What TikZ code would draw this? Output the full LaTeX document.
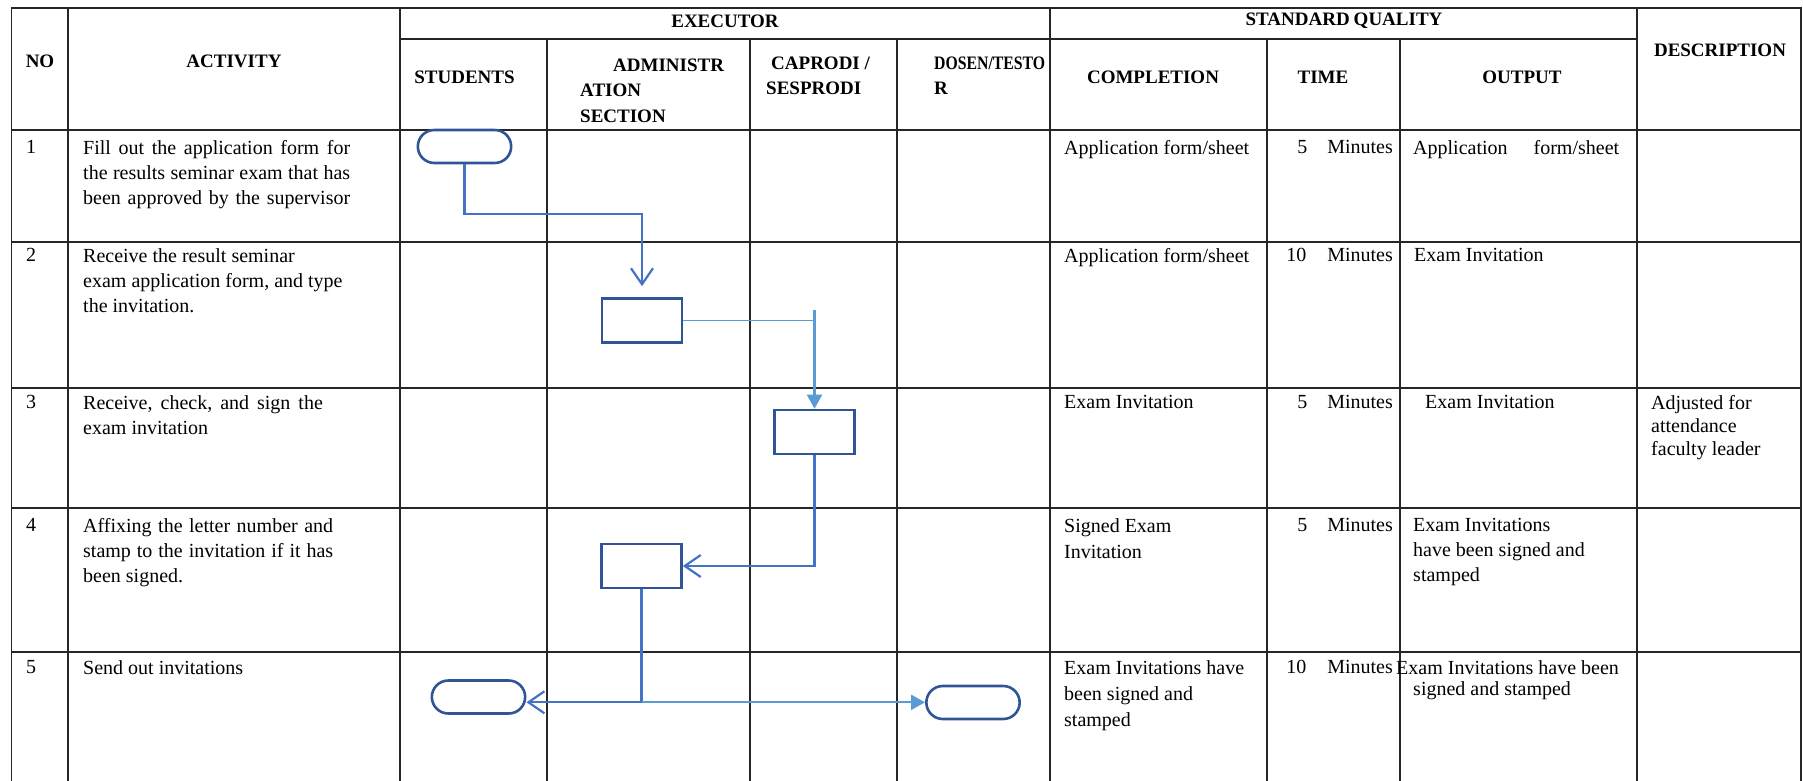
\documentclass[tikz,border=0pt]{standalone}
\usepackage{fontspec}
\setmainfont{Liberation Serif}
\usepackage{graphicx}
\usetikzlibrary{shapes.misc,arrows.meta,calc}

\definecolor{shapeblue}{RGB}{47,85,151}
\definecolor{linkblue}{RGB}{68,114,196}
\definecolor{lightblue}{RGB}{91,155,213}

\begin{document}
\begin{tikzpicture}[
    x=1pt, y=-1pt,
    grid/.style={line width=1.6pt, black!85, line cap=rect},
    head/.style={font=\bfseries\fontsize{19}{25.5}\selectfont, inner sep=0pt},
    cell/.style={font=\fontsize{20}{25}\selectfont, inner sep=0pt, anchor=north west, align=left},
    num/.style={font=\fontsize{20}{25}\selectfont, inner sep=0pt, anchor=north},
    mins/.style={font=\fontsize{20}{25}\selectfont, inner sep=0pt, anchor=north east},
    terminal/.style={rounded rectangle, draw=shapeblue, line width=2.6pt, minimum width=100pt, minimum height=33pt},
    process/.style={rectangle, draw=shapeblue, line width=2.6pt, minimum width=80pt, minimum height=44pt},
    link/.style={-{Straight Barb[length=16pt,width=22pt]}, linkblue, line width=2.2pt},
    filllink/.style={-{Triangle[length=14pt,width=15pt]}, lightblue, line width=2.2pt},
    thinlink/.style={lightblue, line width=1.2pt}
]
\useasboundingbox (0,0) rectangle (1803,781);

% Table lines
\draw[grid] (11.5,8) -- (1801,8);
\draw[grid] (400,39) -- (1637,39);
\draw[grid] (11.5,130) -- (1801,130) (11.5,242) -- (1801,242) (11.5,388) -- (1801,388)
            (11.5,508) -- (1801,508) (11.5,652) -- (1801,652);
\draw[grid] (11.5,8) -- (11.5,781) (68,8) -- (68,781) (400,8) -- (400,781)
            (1050,8) -- (1050,781) (1637,8) -- (1637,781) (1801,8) -- (1801,781);
\draw[grid] (547,39) -- (547,781) (750,39) -- (750,781) (897,39) -- (897,781)
            (1267,39) -- (1267,781) (1400,39) -- (1400,781);

% Header
\node[head] (no-head) at (40,61) {NO};
\node[head] (activity-head) at (234,61) {ACTIVITY};
\node[head] (executor-head) at (725,21) {EXECUTOR};
\node[head] (quality-head) at (1344,21) {STANDARD\hspace{4pt}QUALITY};
\node[head] (description-head) at (1720,50) {DESCRIPTION};
\node[head] (students-head) at (464.5,77) {STUDENTS};
\node[head, anchor=north west, align=left] (admin-head) at (580,58.5) {\hspace*{33pt}ADMINISTR\\ATION\\SECTION};
\node[head, anchor=north west, align=left] (caprodi-head) at (766,56.5) {\hspace*{5pt}CAPRODI /\\SESPRODI};
\node[head, anchor=north west, align=left] (dosen-head) at (934,56.5) {\scalebox{0.83}[1]{DOSEN/TESTO}\\R};
\node[head] (completion-head) at (1153,77) {COMPLETION};
\node[head] (time-head) at (1323,77) {TIME};
\node[head] (output-head) at (1522,77) {OUTPUT};

% Row 1
\node[num] (no-1) at (31,140) {1};
\node[cell] (act-1) at (83,140) {\makebox[267pt][s]{Fill out the application form for}\\
  \makebox[267pt][s]{the results seminar exam that has}\\
  \makebox[267pt][s]{been approved by the supervisor}};
\node[cell] (comp-1) at (1064,140) {Application form/sheet};
\node[mins] (time-1) at (1393,140) {5\hspace{20pt}Minutes};
\node[cell] (out-1) at (1413,140) {Application\hspace{26pt}form/sheet};

% Row 2
\node[num] (no-2) at (31,248) {2};
\node[cell] (act-2) at (83,248) {Receive the result seminar\\exam application form, and type\\the invitation.};
\node[cell] (comp-2) at (1064,248) {Application form/sheet};
\node[mins] (time-2) at (1393,248) {10\hspace{21pt}Minutes};
\node[cell] (out-2) at (1414,248) {Exam Invitation};

% Row 3
\node[num] (no-3) at (31,395) {3};
\node[cell] (act-3) at (83,395) {Receive,\hspace{8pt}check,\hspace{8pt}and\hspace{8pt}sign\hspace{8pt}the\\exam invitation};
\node[cell] (comp-3) at (1064,395) {Exam Invitation};
\node[mins] (time-3) at (1393,395) {5\hspace{20pt}Minutes};
\node[cell] (out-3) at (1425,395) {Exam Invitation};
\node[cell, font=\fontsize{20}{23}\selectfont] (desc-3) at (1651,395) {Adjusted for\\attendance\\faculty leader};

% Row 4
\node[num] (no-4) at (31,518) {4};
\node[cell] (act-4) at (83,518) {\makebox[250pt][s]{Affixing the letter number and}\\
  \makebox[250pt][s]{stamp to the invitation if it has}\\been signed.};
\node[cell, font=\fontsize{20}{26}\selectfont] (comp-4) at (1064,518) {Signed Exam\\Invitation};
\node[mins] (time-4) at (1393,518) {5\hspace{20pt}Minutes};
\node[cell] (out-4) at (1413,518) {Exam Invitations\\have been signed and\\stamped};

% Row 5
\node[num] (no-5) at (31,660) {5};
\node[cell] (act-5) at (83,660) {Send out invitations};
\node[cell, font=\fontsize{20}{26}\selectfont] (comp-5) at (1064,660) {Exam Invitations have\\been signed and\\stamped};
\node[mins] (time-5) at (1393,660) {10\hspace{21pt}Minutes};
\node[cell, font=\fontsize{20}{21}\selectfont] (out-5) at (1396,660) {Exam Invitations have been\\\hspace*{17pt}signed and stamped};

% Flow symbols
\node[terminal] (start) at (464.5,146.5) {};
\node[process] (typing) at (642,320.5) {};
\node[process] (signing) at (814.5,432) {};
\node[process] (stamping) at (641.5,566) {};
\node[terminal] (finish-students) at (478.5,697) {};
\node[terminal] (finish-dosen) at (973,702.5) {};

% Flow
\draw[link, shorten >=11pt] (start.south) -- ++(0,50) -| (typing.north);
\coordinate (tap) at (814.5,310);
\draw[thinlink] (typing.east) -- (typing.east -| tap);
\draw[filllink] (tap) -- (signing.north);
\draw[link] (signing.south) |- (stamping.east);
\draw[link] (stamping.south) -- ++(0,113) coordinate (split) -- (split -| finish-students.east);
\draw[filllink] (split) -- (split -| finish-dosen.west);

\end{tikzpicture}
\end{document}
